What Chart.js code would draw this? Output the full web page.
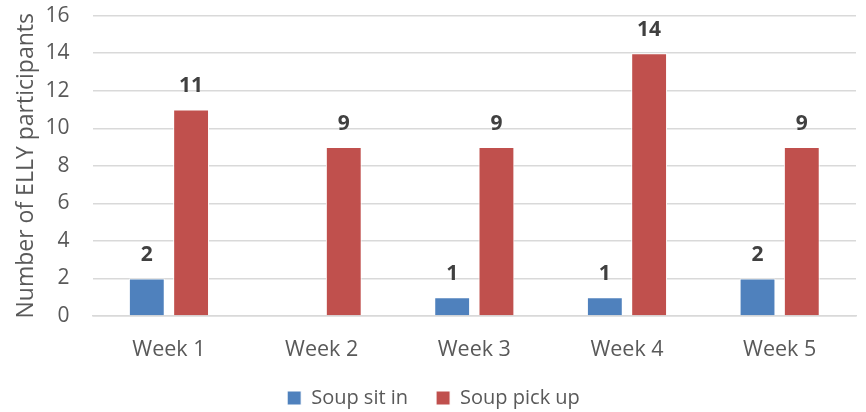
<!DOCTYPE html>
<html>
<head>
<meta charset="utf-8">
<script src="https://cdn.jsdelivr.net/npm/chart.js@4/dist/chart.umd.min.js"></script>
<style>
  html, body { margin: 0; padding: 0; background: #fff; }
  #wrap { width: 866px; height: 412px; position: relative; }
</style>
</head>
<body>
<div id="wrap"><canvas id="soupChart"></canvas></div>
<script>
// chart data
var weeks = ['Week 1', 'Week 2', 'Week 3', 'Week 4', 'Week 5'];
var sitIn = [2, 0, 1, 1, 2];
var pickUp = [11, 9, 9, 14, 9];
var yTicks = [0, 2, 4, 6, 8, 10, 12, 14, 16];

var fontName = "'Open Sans', 'Liberation Sans', sans-serif";

// draws the bold value above each bar, skipping zeros
var valueLabels = {
    id: 'valueLabels',
    afterDatasetsDraw: function (chart) {
        var ctx = chart.ctx;
        ctx.save();
        ctx.font = 'bold 21px ' + fontName;
        ctx.fillStyle = '#404040';
        ctx.textAlign = 'center';
        ctx.textBaseline = 'middle';
        chart.data.datasets.forEach(function (ds, i) {
            chart.getDatasetMeta(i).data.forEach(function (bar, j) {
                if (ds.data[j] === 0) return;
                ctx.fillText(ds.data[j], bar.x, bar.y - 23);
            });
        });
        ctx.restore();
    }
};

var ctx = document.getElementById('soupChart').getContext('2d');
var soupChart = new Chart(ctx, {
    type: 'bar',
    data: {
        labels: weeks,
        datasets: [{
            label: 'Soup sit in',
            data: sitIn,
            backgroundColor: '#4F81BD',
            borderColor: '#ffffff',
            borderWidth: 1
        }, {
            label: 'Soup pick up',
            data: pickUp,
            backgroundColor: '#C0504D',
            borderColor: '#ffffff',
            borderWidth: 1
        }]
    },
    options: {
        responsive: true,
        maintainAspectRatio: false,
        animation: false,
        categoryPercentage: 0.58,
        barPercentage: 0.81,
        layout: {
            padding: { left: 11, right: 10, top: 0, bottom: -6 }
        },
        scales: {
            x: {
                grid: { display: false },
                border: { color: '#d9d9d9', width: 1.5 },
                ticks: {
                    color: '#595959',
                    font: { family: fontName, size: 21.5 },
                    padding: 13
                },
                afterFit: function (scale) {
                    scale.height = 44;
                }
            },
            y: {
                min: 0,
                max: 16,
                afterBuildTicks: function (axis) {
                    axis.ticks = yTicks.map(function (v) { return { value: v }; });
                },
                grid: { color: '#d9d9d9', lineWidth: 1.5, drawTicks: true, tickLength: 20, tickColor: 'rgba(0,0,0,0)' },
                border: { display: false },
                ticks: {
                    color: '#595959',
                    font: { family: fontName, size: 21 },
                    padding: 3
                },
                title: {
                    display: true,
                    text: 'Number of ELLY participants',
                    color: '#595959',
                    font: { family: fontName, size: 23 },
                    padding: 2
                }
            }
        },
        plugins: {
            legend: {
                position: 'bottom',
                labels: {
                    color: '#595959',
                    font: { family: fontName, size: 20 },
                    boxWidth: 14,
                    boxHeight: 14,
                    padding: 28
                }
            },
            tooltip: { enabled: false }
        }
    },
    plugins: [valueLabels]
});
</script>
</body>
</html>
